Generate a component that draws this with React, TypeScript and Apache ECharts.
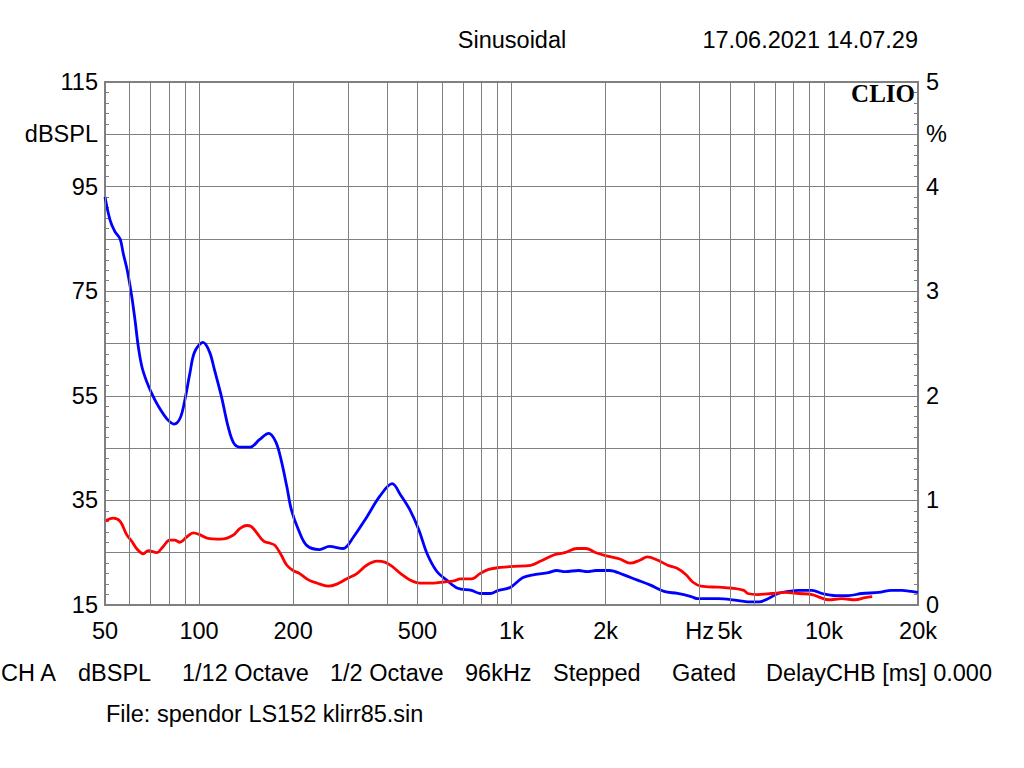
import React, { useEffect, useRef } from 'react';
import * as echarts from 'echarts';

// Grid / tick frequencies (Hz)
const gridFreqs = [50, 60, 70, 80, 90, 100, 200, 300, 400, 500, 600, 700, 800, 900, 1000, 2000, 3000, 4000, 5000, 6000, 7000, 8000, 9000, 10000, 20000];
const labelFreqs = [50, 100, 200, 500, 1000, 2000, 4000, 5000, 10000, 20000];
const labelTexts = ['50', '100', '200', '500', '1k', '2k', 'Hz', '5k', '10k', '20k'];

// Blue curve (% distortion)
const blueFreq = [50, 51.9, 53.8, 55.9, 57.2, 58.9, 60.9, 62.4, 63.9, 65.6, 67.7, 70.6, 74.1, 78.9, 83.2, 87.1, 90.2, 93.4, 96.8, 103, 108, 112, 118, 124, 129, 135, 146, 156, 167, 176, 183, 191, 197.5, 208, 221, 243, 261, 289, 312, 344, 379, 415, 442, 473, 505, 537, 577, 619, 673, 745, 793, 855, 909, 993, 1085, 1185, 1311, 1395, 1486, 1642, 1749, 1863, 2060, 2278, 2520, 2784, 3078, 3400, 3760, 3950, 4590, 5090, 5700, 6220, 6620, 7140, 7700, 8300, 9170, 9870, 10900, 11980, 13230, 14960, 16460, 17740, 19060, 20000];
const bluePct = [3.90, 3.68, 3.57, 3.50, 3.36, 3.20, 2.95, 2.72, 2.47, 2.28, 2.15, 2.02, 1.90, 1.78, 1.73, 1.79, 1.97, 2.21, 2.42, 2.51, 2.42, 2.25, 1.99, 1.70, 1.55, 1.51, 1.51, 1.58, 1.64, 1.56, 1.39, 1.13, 0.91, 0.72, 0.57, 0.53, 0.56, 0.54, 0.65, 0.84, 1.04, 1.16, 1.05, 0.91, 0.72, 0.49, 0.32, 0.24, 0.16, 0.14, 0.11, 0.11, 0.14, 0.17, 0.26, 0.29, 0.31, 0.33, 0.32, 0.33, 0.32, 0.33, 0.33, 0.29, 0.24, 0.19, 0.13, 0.11, 0.08, 0.06, 0.06, 0.05, 0.03, 0.03, 0.06, 0.11, 0.13, 0.14, 0.14, 0.11, 0.09, 0.09, 0.11, 0.12, 0.14, 0.14, 0.13, 0.12];

// Red curve (% distortion)
const redFreq = [50, 53.1, 55.9, 58.7, 60.9, 63.1, 66.3, 68.8, 73.2, 76.8, 80.5, 83.5, 86.8, 91.3, 95.9, 100.8, 106, 117, 123, 129, 135, 142, 147, 153, 161, 169, 175, 183, 191, 200, 210, 224, 238, 259, 276, 297, 320, 344, 371, 393, 415, 442, 473, 510, 563, 606, 653, 686, 745, 793, 845, 921, 1018, 1152, 1241, 1371, 1480, 1620, 1728, 1863, 2011, 2222, 2397, 2585, 2720, 2930, 3160, 3400, 3620, 3800, 4040, 4590, 5080, 5540, 5700, 6140, 6800, 7500, 8300, 9170, 9750, 10370, 11400, 12580, 13550, 14270];
const redPct = [0.80, 0.83, 0.80, 0.67, 0.61, 0.54, 0.49, 0.52, 0.50, 0.56, 0.62, 0.62, 0.60, 0.65, 0.69, 0.67, 0.64, 0.63, 0.64, 0.67, 0.73, 0.76, 0.75, 0.69, 0.61, 0.59, 0.57, 0.48, 0.38, 0.33, 0.30, 0.24, 0.21, 0.18, 0.20, 0.25, 0.30, 0.38, 0.42, 0.41, 0.37, 0.30, 0.24, 0.21, 0.21, 0.22, 0.23, 0.25, 0.25, 0.30, 0.34, 0.36, 0.37, 0.38, 0.42, 0.48, 0.50, 0.54, 0.54, 0.50, 0.47, 0.44, 0.40, 0.43, 0.46, 0.43, 0.38, 0.35, 0.29, 0.22, 0.18, 0.17, 0.16, 0.14, 0.11, 0.10, 0.11, 0.12, 0.11, 0.10, 0.07, 0.05, 0.06, 0.05, 0.07, 0.08];

// Left axis: dBSPL 15..115 (drawn as offset 0..100), right axis: % 0..5
const dbOffset = 15;

const FONT = "'Liberation Sans', Arial, sans-serif";
const FS = 23.5;
const GRAY = '#808080';

export default function App() {
  const ref = useRef<HTMLDivElement>(null);

  useEffect(() => {
    if (!ref.current) return;
    const chart = echarts.init(ref.current, undefined, { renderer: 'svg' });

    const gridLineData = gridFreqs.map((f) => {
      const i = labelFreqs.indexOf(f);
      return {
        xAxis: f,
        label: i >= 0
          ? { show: true, position: 'start', distance: 14, formatter: labelTexts[i], color: '#000', fontSize: FS, fontFamily: FONT }
          : { show: false },
      };
    });

    const textStyle = (text: string, x: number, y: number, align = 'left', extra: any = {}) => ({
      type: 'text',
      x,
      y,
      silent: true,
      style: {
        text,
        fill: '#000',
        font: `${FS}px ${FONT}`,
        textAlign: align,
        textVerticalAlign: 'middle',
        ...extra,
      },
    });

    chart.setOption({
      animation: false,
      backgroundColor: '#ffffff',
      grid: {
        left: 105,
        top: 82,
        right: 106,
        bottom: 163,
        show: true,
        borderColor: GRAY,
        borderWidth: 2,
        backgroundColor: 'transparent',
      },
      xAxis: {
        type: 'log',
        logBase: 10,
        min: 50,
        max: 20000,
        axisLine: { show: false },
        axisTick: { show: false },
        axisLabel: { show: false },
        splitLine: { show: false },
      },
      yAxis: [
        {
          type: 'value',
          position: 'left',
          min: 0,
          max: 100,
          interval: 10,
          axisLine: { show: false },
          axisTick: { show: true, inside: true, length: 4, lineStyle: { color: GRAY } },
          minorTick: { show: true, splitNumber: 5, length: 4, lineStyle: { color: GRAY } },
          splitLine: { show: true, lineStyle: { color: GRAY, width: 1 } },
          axisLabel: {
            margin: 7,
            color: '#000',
            fontSize: FS,
            fontFamily: FONT,
            formatter: (v: number) => (v % 20 === 0 ? String(v + dbOffset) : v === 90 ? 'dBSPL' : ''),
          },
        },
        {
          type: 'value',
          position: 'right',
          min: 0,
          max: 5,
          interval: 0.5,
          axisLine: { show: false },
          axisTick: { show: true, inside: true, length: 4, lineStyle: { color: GRAY } },
          minorTick: { show: true, splitNumber: 5, length: 4, lineStyle: { color: GRAY } },
          splitLine: { show: false },
          axisLabel: {
            margin: 8,
            color: '#000',
            fontSize: FS,
            fontFamily: FONT,
            formatter: (v: number) =>
              Math.abs(v - Math.round(v)) < 1e-6 ? String(Math.round(v)) : Math.abs(v - 4.5) < 1e-6 ? '%' : '',
          },
        },
      ],
      series: [
        {
          type: 'line',
          yAxisIndex: 1,
          data: [],
          z: 1,
          silent: true,
          markLine: {
            silent: true,
            symbol: ['none', 'none'],
            animation: false,
            lineStyle: { color: GRAY, width: 1, type: 'solid' },
            emphasis: { disabled: true },
            label: { show: false },
            data: gridLineData,
          },
        },
        {
          name: 'blue',
          type: 'line',
          yAxisIndex: 1,
          z: 3,
          smooth: 0.35,
          showSymbol: false,
          lineStyle: { color: '#0000ff', width: 2.8 },
          itemStyle: { color: '#0000ff' },
          data: blueFreq.map((f, i) => [f, bluePct[i]]),
        },
        {
          name: 'red',
          type: 'line',
          yAxisIndex: 1,
          z: 4,
          smooth: 0.35,
          showSymbol: false,
          lineStyle: { color: '#ff0000', width: 2.8 },
          itemStyle: { color: '#ff0000' },
          data: redFreq.map((f, i) => [f, redPct[i]]),
        },
      ],
      graphic: [
        textStyle('Sinusoidal', 512, 40, 'center'),
        textStyle('17.06.2021 14.07.29', 918, 40, 'right'),
        textStyle('CLIO', 915, 93, 'right', { font: `bold 25px 'Liberation Serif', 'Times New Roman', serif` }),
        textStyle('CH A', 1, 673),
        textStyle('dBSPL', 78, 673),
        textStyle('1/12 Octave', 182, 673),
        textStyle('1/2 Octave', 330, 673),
        textStyle('96kHz', 465, 673),
        textStyle('Stepped', 553, 673),
        textStyle('Gated', 672, 673),
        textStyle('DelayCHB [ms] 0.000', 766, 673),
        textStyle('File: spendor LS152 klirr85.sin', 106, 714),
      ],
    });

    return () => {
      chart.dispose();
    };
  }, []);

  return (
    <div
      ref={ref}
      style={{ position: 'fixed', left: 0, top: 0, width: 1024, height: 768, background: '#fff' }}
    />
  );
}
